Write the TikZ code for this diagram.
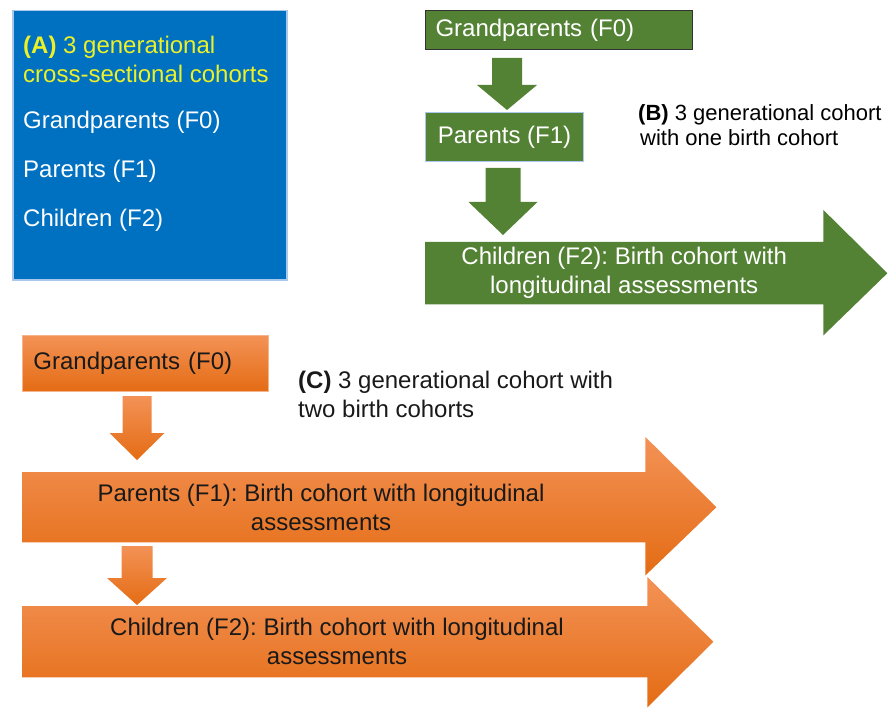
\documentclass[tikz,border=0pt]{standalone}
\usepackage{fontspec}
\setmainfont{Liberation Sans}
\usetikzlibrary{calc,backgrounds}
\frenchspacing
\definecolor{ablue}{RGB}{0,112,192}
\definecolor{aborder}{RGB}{170,200,235}
\definecolor{ayellow}{RGB}{235,240,40}
\definecolor{bgreen}{RGB}{84,130,53}
\definecolor{bedge}{RGB}{50,50,50}
\definecolor{otop}{RGB}{243,146,86}
\definecolor{obot}{RGB}{228,108,20}
\definecolor{oedge}{RGB}{245,180,140}
\definecolor{otext}{RGB}{25,25,25}
% #1 style, #2 top coordinate, #3 tip coordinate, #4 half shaft, #5 half head, #6 head length
\newcommand\blockdown[6][]{%
  \path[#1] ($(#2)+(-#4,0)$) -- ($(#2)+(#4,0)$) -- ($(#3)+(#4,-#6)$) -- ($(#3)+(#5,-#6)$) -- (#3)
    -- ($(#3)+(-#5,-#6)$) -- ($(#3)+(-#4,-#6)$) -- cycle;}
\tikzset{
  txt/.style={font=\fontsize{24}{29}\selectfont, inner sep=0pt},
  btxt/.style={font=\fontsize{22}{25}\selectfont, inner sep=0pt},
  gfill/.style={fill=bgreen},
  oshade/.style={top color=otop, bottom color=obot},
  gbox/.style={txt, gfill, text=white, inner ysep=0pt},
  obox/.style={txt, oshade, draw=oedge, line width=0.8pt, text=otext, inner ysep=0pt},
  body/.style={inner sep=0pt, anchor=north west}
}
\begin{document}
\begin{tikzpicture}[x=1pt,y=-1pt]
\useasboundingbox (0,0) rectangle (890,708);

% ---------------- (A) ----------------
\node[draw=aborder, line width=1.5pt, fill=ablue, minimum width=274pt, minimum height=269pt,
      anchor=north west, inner sep=0pt] (boxA) at (12,10) {};
\node[txt, anchor=base west, text=ayellow] (aT1) at (23,54) {\textbf{(A)} 3 generational};
\node[txt, anchor=base west, text=ayellow] (aT2) at (23,83) {cross-sectional cohorts};
\node[txt, anchor=base west, text=white] (aGP) at (23,129) {Grandparents (F0)};
\node[txt, anchor=base west, text=white] (aP) at (23,178) {Parents (F1)};
\node[txt, anchor=base west, text=white] (aC) at (23,227) {Children (F2)};

% ---------------- (B) ----------------
\node[gbox, draw=bedge, line width=1pt, anchor=north west, minimum height=39pt,
      text width=247pt, inner xsep=10pt, align=left] (bGP) at (425,10) {Grandparents (F0)};
\node[gbox, draw=aborder, line width=1pt, anchor=north west, minimum width=158pt,
      minimum height=49pt] (bP) at (425,112) {Parents (F1)};
\node[body, minimum width=398pt, minimum height=62pt, txt, text=white, align=center]
      (bC) at (425,242) {Children (F2): Birth cohort with\\longitudinal assessments};
\node[btxt, anchor=base west] (bT1) at (638,121) {\textbf{(B)} 3 generational cohort};
\node[btxt, anchor=base west] (bT2) at (640,146) {with one birth cohort};

\coordinate (ga1) at (507,58);  \coordinate (ga1t) at (507,110);
\coordinate (ga2) at (503,168); \coordinate (ga2t) at (503,235);

% ---------------- (C) ----------------
\node[obox, anchor=north west, minimum height=56pt, text width=224pt, inner xsep=11pt,
      align=left] (cGP) at (22,335) {Grandparents (F0)};
\node[body, minimum width=623pt, minimum height=70pt] (cP) at (22,472) {};
\node[body, minimum width=625pt, minimum height=71pt] (cC) at (22,606) {};
\node[txt, text=otext, align=center] (cPt) at (321,507)
      {Parents (F1): Birth cohort with longitudinal\\assessments};
\node[txt, text=otext, align=center] (cCt) at (337,641)
      {Children (F2): Birth cohort with longitudinal\\assessments};
\node[txt, anchor=base west, text=otext] (cT1) at (298,388) {\textbf{(C)} 3 generational cohort with};
\node[txt, anchor=base west, text=otext] (cT2) at (298,417) {two birth cohorts};

\coordinate (oa1) at (137,396); \coordinate (oa1t) at (137,460);
\coordinate (oa2) at (137,546); \coordinate (oa2t) at (137,605);

\begin{scope}[on background layer]
  % green big arrow
  \fill[bgreen] (bC.north west) -- (bC.north east) -- ++(0,-32) -- ($(bC.east)+(64,0)$)
     -- ($(bC.south east)+(0,31)$) -- (bC.south east) -- (bC.south west) -- cycle;
  % orange big arrows
  \path[oshade] (cP.north west) -- (cP.north east) -- ++(0,-35) -- ($(cP.east)+(71,0)$)
     -- ($(cP.south east)+(0,33)$) -- (cP.south east) -- (cP.south west) -- cycle;
  \path[oshade] (cC.north west) -- (cC.north east) -- ++(0,-29) -- ($(cC.east)+(66,0)$)
     -- ($(cC.south east)+(0,30)$) -- (cC.south east) -- (cC.south west) -- cycle;
  % down arrows
  \blockdown[gfill]{ga1}{ga1t}{15}{30}{25}
  \blockdown[gfill]{ga2}{ga2t}{17.5}{34.5}{33}
  \blockdown[oshade]{oa1}{oa1t}{14.5}{27.5}{27}
  \blockdown[oshade]{oa2}{oa2t}{15.5}{30}{27}
\end{scope}
\end{tikzpicture}
\end{document}
